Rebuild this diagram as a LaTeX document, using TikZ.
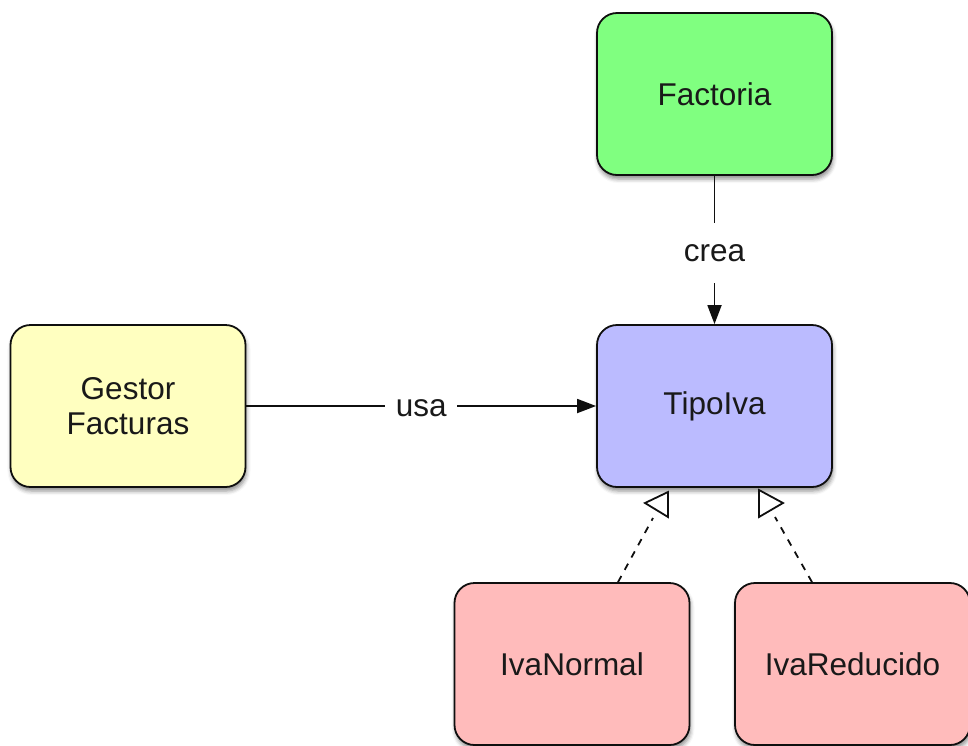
\documentclass[tikz,border=0pt]{standalone}
\usepackage{fontspec}
\setmainfont{Liberation Sans}
\usetikzlibrary{arrows.meta,shadows.blur}

\definecolor{boxgreen}{RGB}{128,255,128}
\definecolor{boxblue}{RGB}{187,187,255}
\definecolor{boxyellow}{RGB}{255,255,192}
\definecolor{boxpink}{RGB}{255,187,187}
\definecolor{inkline}{RGB}{15,15,15}

\tikzset{
  classbox/.style={
    draw=inkline, line width=1.8pt, rounded corners=20pt,
    minimum width=235pt, minimum height=162pt, inner sep=0pt,
    align=center, text=black!90,
    font=\fontsize{31.5}{35}\selectfont,
    blur shadow={shadow xshift=1pt, shadow yshift=-4pt,
                 shadow blur radius=4pt, shadow opacity=45}
  },
  relation/.style={draw=inkline, line width=1.8pt},
  relarrow/.style={relation, -{Triangle[length=19pt,width=14pt]}},
  rellabel/.style={fill=white, inner sep=0pt, text=black!90,
                   font=\fontsize{31.5}{35}\selectfont},
  realizes/.style={relation, dash pattern=on 7pt off 7pt},
  hollowtip/.style={draw=inkline, line width=1.8pt, fill=white, line join=miter}
}

\begin{document}
\begin{tikzpicture}[x=1pt, y=-1pt]
  \useasboundingbox (0,0) rectangle (968,745);

  % classes
  \node[classbox, fill=boxgreen]  (fact) at (714.5, 94)  {Factoria};
  \node[classbox, fill=boxblue]   (tipo) at (714.5, 406) {TipoIva};
  \node[classbox, fill=boxyellow] (gest) at (128, 406)   {Gestor\\Facturas};
  \node[classbox, fill=boxpink]   (norm) at (572, 664)   {IvaNormal};
  \node[classbox, fill=boxpink]   (redu) at (852.5, 664) {IvaReducido};

  % associations
  \draw[relarrow] (fact.south) -- node[rellabel, minimum height=60pt, yshift=-3pt] {crea} (tipo.north);
  \draw[relarrow] (gest.east) -- node[rellabel, minimum width=72pt, yshift=-2pt] {usa} (tipo.west);

  % realizations (dashed, with hollow triangles under TipoIva)
  \coordinate (ntop) at (653, 518);
  \coordinate (rtop) at (775, 517);
  \draw[realizes] (norm.north -| 618,0) -- (ntop);
  \draw[realizes] (redu.north -| 812,0) -- (rtop);
  \draw[hollowtip] (668,492) -- (668,517) -- (645,503) -- cycle;
  \draw[hollowtip] (759,490) -- (759,517) -- (783,503) -- cycle;
\end{tikzpicture}
\end{document}
